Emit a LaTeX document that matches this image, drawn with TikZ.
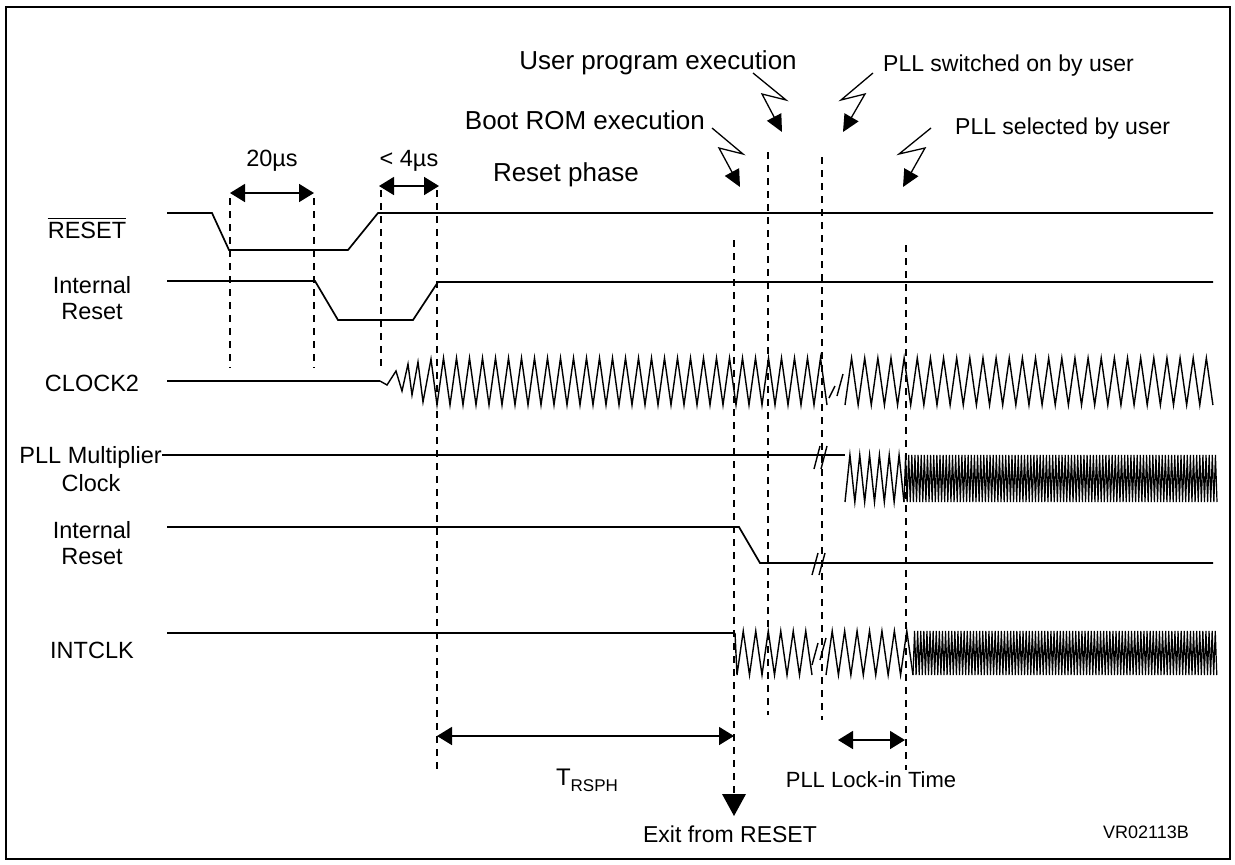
\documentclass[tikz,border=0pt]{standalone}
\usepackage{fontspec}
\setmainfont{Liberation Sans}
\usetikzlibrary{arrows.meta}
\newcommand\fs[1]{\fontsize{#1}{#1}\selectfont}
\begin{document}
\begin{tikzpicture}[x=1pt,y=-1pt,
  sig/.style={line width=1.7pt,line join=miter},
  wave/.style={line width=1.4pt,line join=miter},
  dense/.style={line width=1.2pt},
  vdash/.style={line width=1.8pt,dash pattern=on 7pt off 6pt},
  brk/.style={line width=1.4pt},
  dim/.style={line width=1.7pt,{Triangle[length=15pt,width=18pt]}-{Triangle[length=15pt,width=18pt]}},
  bolt/.style={line width=1.3pt,-{Triangle[length=17pt,width=16pt]}},
  lbl/.style={inner sep=0pt,text depth=0pt,font=\fs{23.5}},
  big/.style={inner sep=0pt,text depth=0pt,font=\fs{26}},
  mid/.style={inner sep=0pt,text depth=0pt,font=\fs{23}}]
\useasboundingbox (0,0) rectangle (1235,865);
\draw[line width=1.5pt] (6,7) rectangle (1230,859);

% ---------- labels on the left
\node[lbl] (lrst) at (87,230) {RESET};
\draw[line width=1.3pt] ([yshift=3pt]lrst.north west) -- ([yshift=3pt]lrst.north east);
\node[lbl] (lir1a) at (92,285) {Internal};
\node[lbl] (lir1b) at (92,311) {Reset};
\node[lbl] (lclk) at (92,383) {CLOCK2};
\node[lbl,anchor=east] (lpll) at (162,455) {PLL Multiplier};
\node[lbl] (lpllb) at (91,483) {Clock};
\node[lbl] (lir2a) at (92,530) {Internal};
\node[lbl] (lir2b) at (92,556) {Reset};
\node[lbl] (lint) at (92,650) {INTCLK};

% ---------- top texts
\node[big] (tup) at (658,60) {User program execution};
\node[mid,anchor=west] (tsw) at (883,63) {PLL switched on by user};
\node[big,anchor=east] (tboot) at (705,120) {Boot ROM execution};
\node[mid,anchor=west] (tsel) at (955,126) {PLL selected by user};
\node[big] (tph) at (566,172) {Reset phase};
\node[lbl] (t20) at (272,158) {20µs};
\node[lbl] (t4) at (409,158) {< 4µs};

% ---------- lightning arrows
\coordinate (b1) at (712,128); \coordinate (b4) at (740,187);
\draw[bolt] (b1) -- (743,154) -- (719,148) -- (b4);
\coordinate (u1) at (753,73); \coordinate (u4) at (782,132);
\draw[bolt] (u1) -- (786,100) -- (762,94) -- (u4);
\coordinate (s1) at (873,73); \coordinate (s4) at (843,132);
\draw[bolt] (s1) -- (841,100) -- (865,94) -- (s4);
\coordinate (p1) at (931,128); \coordinate (p4) at (903,187);
\draw[bolt] (p1) -- (899,154) -- (925,148) -- (p4);

% ---------- dashed verticals
\draw[vdash] (230,198) -- (230,368);
\draw[vdash] (314,198) -- (314,368);
\draw[vdash] (381,190) -- (381,370);
\draw[vdash] (437,190) -- (437,770);
\draw[vdash] (734,240) -- (734,794);
\draw[vdash] (768,152) -- (768,715);
\draw[vdash] (822,157) -- (822,720);
\draw[vdash] (906,245) -- (906,770);

% ---------- dimension arrows
\coordinate (d1a) at (230,193); \coordinate (d1b) at (314,193);
\draw[dim] (d1a) -- (d1b);
\coordinate (d2a) at (379,186); \coordinate (d2b) at (439,186);
\draw[dim] (d2a) -- (d2b);
\coordinate (d3a) at (437,736); \coordinate (d3b) at (734,736);
\draw[dim] (d3a) -- (d3b);
\coordinate (d4a) at (838,740); \coordinate (d4b) at (905,740);
\draw[dim] (d4a) -- (d4b);
\node[inner sep=0pt,font=\fs{24}] (trsph) at (587,780) {T\raisebox{-6pt}{\fs{17}RSPH}};
\node[inner sep=0pt,text depth=0pt,font=\fs{22}] (tlock) at (871,780) {PLL Lock-in Time};
\fill (722,794) -- (746,794) -- (734,816) -- cycle;
\node[mid] (texit) at (730,834) {Exit from RESET};
\node[inner sep=0pt,text depth=0pt,font=\fs{18}] (tvr) at (1146,832) {VR02113B};

% ---------- RESET
\draw[sig] (167,213) -- (212,213) -- (229,250) -- (348,250) -- (378,213) -- (1213,213);
% ---------- Internal Reset 1
\draw[sig] (167,281) -- (315,281) -- (338,320) -- (413,320) -- (438,282) -- (1213,282);
% ---------- CLOCK2
\draw[sig] (167,381) -- (380,381);
\draw[wave] (380,381) -- (387,385) -- (396,371) -- (402,391) -- (408,364)
  -- (412,395) -- (418,362) -- (423,402) -- (431,359) -- (437,405)
  \foreach \i in {1,...,30} { -- ({437+(\i-0.5)*13},358) -- ({437+\i*13},405) };
\draw[brk] (829,398) -- (835,386);
\draw[brk] (837,396) -- (843,374);
\draw[wave] (845,405)
  \foreach \i in {1,...,28} { -- ({845+(\i-0.5)*13.14},358) -- ({845+\i*13.14},405) };
% ---------- PLL multiplier clock
\draw[sig] (lpll.east) -- (845,455);
\draw[brk] (814,469) -- (820,446);
\draw[brk] (821,469) -- (827,446);
\draw[wave] (845,502)
  \foreach \i in {1,...,6} { -- ({845+(\i-0.5)*9.83},455) -- ({845+\i*9.83},502) };
\draw[dense] (904,502)
  \foreach \i in {1,...,100} { -- ({904+(\i-0.5)*3.13},455) -- ({904+\i*3.13},502) };
% ---------- Internal Reset 2
\draw[sig] (167,527) -- (739,527) -- (760,563) -- (1213,563);
\draw[brk] (812,575) -- (818,553);
\draw[brk] (819,575) -- (825,553);
% ---------- INTCLK
\draw[sig] (167,633) -- (735,633);
\draw[wave] (735,633) -- (737,675)
  \foreach \i in {1,...,6} { -- ({737+(\i-0.5)*12.5},631) -- ({737+\i*12.5},675) };
\draw[brk] (812,665) -- (818,643);
\draw[brk] (820,660) -- (826,638);
\draw[wave] (826,675)
  \foreach \i in {1,...,7} { -- ({826+(\i-0.5)*12.43},631) -- ({826+\i*12.43},675) };
\draw[dense] (913,675)
  \foreach \i in {1,...,98} { -- ({913+(\i-0.5)*3.1},631) -- ({913+\i*3.1},675) };
\end{tikzpicture}
\end{document}
